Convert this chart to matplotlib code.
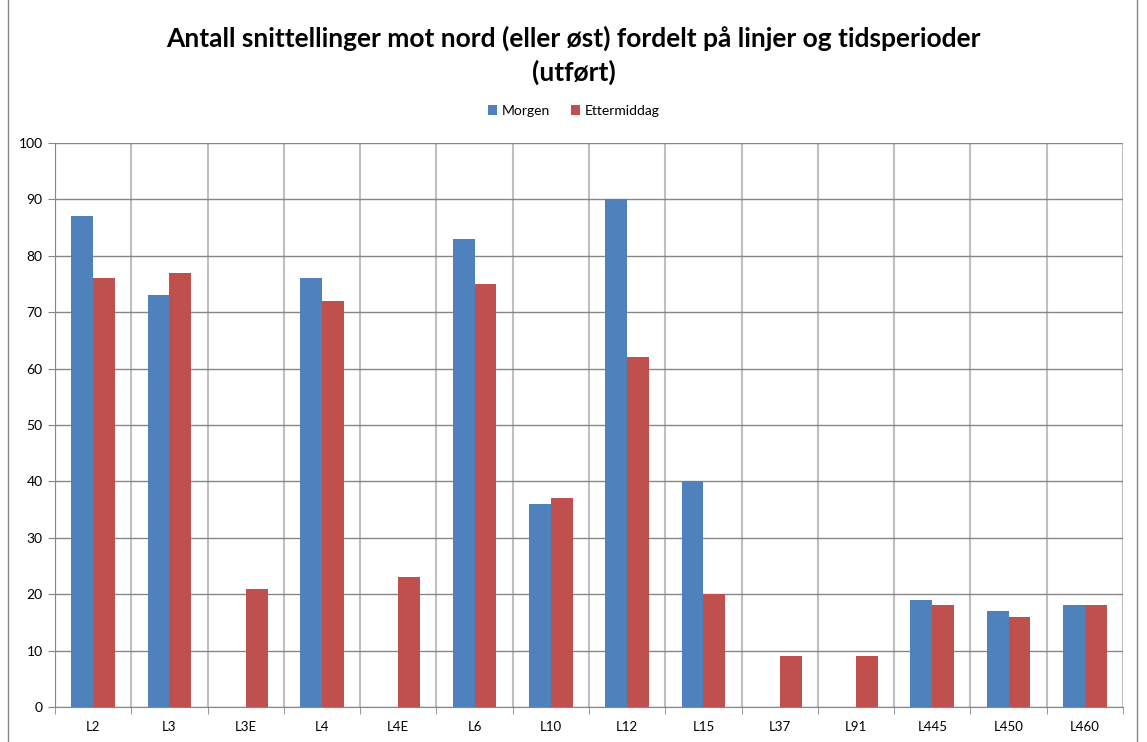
import numpy as np
import matplotlib
matplotlib.use("Agg")
import matplotlib.pyplot as plt
from matplotlib.lines import Line2D

linjer = ["L2", "L3", "L3E", "L4", "L4E", "L6", "L10", "L12", "L15", "L37", "L91", "L445", "L450", "L460"]
morgen = [87, 73, 0, 76, 0, 83, 36, 90, 40, 0, 0, 19, 17, 18]
ettermiddag = [76, 77, 21, 72, 23, 75, 37, 62, 20, 9, 9, 18, 16, 18]

plt.rcParams['font.family'] = ['Lato', 'DejaVu Sans']

fig = plt.figure(figsize=(11.47, 7.42), dpi=100)
ax = fig.add_axes([55/1147, 1 - 707/742, (1123 - 55)/1147, (707 - 143)/742])

x = np.arange(len(linjer))
w = 1 / 3.5  # gap width 150%
ax.bar(x - w/2, morgen, w, color="#4F81BD", label="Morgen", zorder=3)
ax.bar(x + w/2, ettermiddag, w, color="#C0504D", label="Ettermiddag", zorder=3)

ax.set_xlim(-0.5, len(linjer) - 0.5)
ax.set_ylim(0, 100)
ax.set_yticks(np.arange(0, 101, 10))
ax.set_xticks(x)
ax.set_xticklabels(linjer)
ax.set_xticks(np.arange(-0.5, len(linjer)), minor=True)
ax.tick_params(axis="x", which="major", length=0, labelsize=9.5, pad=10)
ax.tick_params(axis="x", which="minor", length=5, color="#868686")
ax.tick_params(axis="y", length=5, color="#868686", labelsize=10, pad=4)
ax.grid(axis="y", color="#868686", linewidth=1, zorder=0)
ax.grid(axis="x", which="minor", color="#BFBFBF", linewidth=1.5, zorder=0)
for s in ["top", "right"]:
    ax.spines[s].set_visible(False)
for s in ["left", "bottom"]:
    ax.spines[s].set_color("#868686")

fig.text(0.5, 1 - 38/742, "Antall snittellinger mot nord (eller øst) fordelt på linjer og tidsperioder",
         ha="center", va="center", fontsize=19, fontweight="bold")
fig.text(0.5, 1 - 72/742, "(utført)", ha="center", va="center", fontsize=19, fontweight="bold")

fig.legend(loc="center", bbox_to_anchor=(0.5, 1 - 111/742), ncol=2, frameon=False,
           fontsize=10, handlelength=0.7, handleheight=0.7, handletextpad=0.3, columnspacing=1.5)

# outer chart border
fig.add_artist(Line2D([8/1147, 8/1147], [0, 1], color="#868686", lw=1))
fig.add_artist(Line2D([1137/1147, 1137/1147], [0, 1], color="#868686", lw=1))

fig.savefig("out.png", dpi=100)
